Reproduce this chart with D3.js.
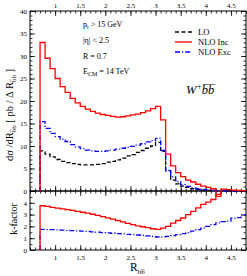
<!DOCTYPE html>
<html>
<head>
<meta charset="utf-8">
<script src="https://cdn.jsdelivr.net/npm/d3@7"></script>
<style>
  body { margin: 0; background: #fff; }
  svg { display: block; font-family: "Liberation Serif", "DejaVu Serif", serif; }
</style>
</head>
<body>
<script>
// bin left edges (width 0.1), last edge closes the histogram
const binEdges = d3.range(41).map(i => +(0.7 + i * 0.1).toFixed(1));
const lastEdge = 4.8;

// d sigma / dR_bb  [pb / dR]
const loValues = [8.9, 8.2, 7.6, 7.0, 6.6, 6.3, 6.1, 5.9, 5.8, 5.8,
  5.8, 5.9, 6.1, 6.4, 6.6, 6.9, 7.3, 7.8, 8.1, 8.6,
  9.0, 9.5, 10.0, 10.8, 8.8, 4.5, 2.4, 1.6, 1.1, 0.8,
  0.5, 0.35, 0.2, 0.12, 0.07, 0.04, 0.02, 0.01, 0, 0, 0];
const nloIncValues = [33.0, 29.5, 27.2, 25.0, 23.2, 21.9, 20.6, 19.6, 18.8, 18.2,
  17.7, 17.3, 17.0, 16.8, 16.6, 16.4, 16.5, 16.7, 16.9, 17.1,
  17.4, 17.8, 18.3, 18.8, 15.8, 8.2, 5.6, 4.1, 3.2, 2.4,
  2.0, 1.5, 1.1, 0.8, 0.5, -1.2, 0.4, 0.3, 0.2, 0.15, 0.1];
const nloExcValues = [15.4, 13.9, 12.8, 12.1, 11.5, 11.0, 10.3, 9.8, 9.4, 9.1,
  8.9, 8.8, 8.8, 8.9, 9.1, 9.3, 9.5, 9.7, 9.9, 10.2,
  10.5, 10.9, 11.2, 11.7, 9.0, 4.6, 3.2, 2.1, 1.4, 1.0,
  0.7, 0.5, 0.35, 0.25, 0.15, 0.1, 0.05, 0.03, 0.02, 0.01, 0.01];

// k-factors
const kIncValues = [3.75, 3.7, 3.62, 3.55, 3.48, 3.42, 3.35, 3.28, 3.2, 3.12,
  3.03, 2.93, 2.82, 2.72, 2.62, 2.5, 2.38, 2.26, 2.15, 2.05,
  1.97, 1.9, 1.8, 1.74, 1.85, 2.0, 2.28, 2.5, 2.71, 3.0,
  3.28, 3.57, 3.86, 4.06, 4.28, 4.71, 5.2, 5.5, 5.5, 5.5, 5.5];
const kExcValues = [1.75, 1.73, 1.72, 1.7, 1.68, 1.66, 1.64, 1.62, 1.6, 1.57,
  1.54, 1.51, 1.48, 1.45, 1.42, 1.39, 1.36, 1.33, 1.3, 1.27,
  1.24, 1.2, 1.15, 1.1, 1.12, 1.16, 1.22, 1.3, 1.38, 1.48,
  1.6, 1.72, 1.85, 2.0, 2.15, 2.3, 2.4, 2.45, 2.7, 2.75, 3.0];

// ticks
const xMajorTicks = [1, 1.5, 2, 2.5, 3, 3.5, 4, 4.5];
const xMinorTicks = d3.range(5, 49).map(i => i / 10);
const yTopMajor = [0, 5, 10, 15, 20, 25, 30, 35, 40];
const yTopMinor = d3.range(0, 41);
const yBotMajor = [0, 1, 2, 3, 4, 5];
const yBotLabels = [0, 1, 2, 3, 4];
const yBotMinor = d3.range(0, 11).map(i => i / 2);

const width = 247, height = 276;
const plotLeft = 30, plotRight = 246, plotTop = 11, plotMid = 191, plotBottom = 250;

const svg = d3.select("body").append("svg")
  .attr("width", width)
  .attr("height", height);

const x = d3.scaleLinear().domain([0.5, 4.8]).range([plotLeft, plotRight]);
const yTop = d3.scaleLinear().domain([0, 40]).range([plotMid, plotTop]);
const yBot = d3.scaleLinear().domain([0, 5]).range([plotBottom, plotMid]);

svg.append("defs").append("clipPath").attr("id", "clipBot")
  .append("rect").attr("x", plotLeft).attr("y", plotMid)
  .attr("width", plotRight - plotLeft).attr("height", plotBottom - plotMid);

// turn per-bin values into step points
function steps(values) {
  const pts = [[binEdges[0], 0]];
  values.forEach((v, i) => pts.push([binEdges[i], v]));
  pts.push([lastEdge, values[values.length - 1]]);
  return pts;
}

function drawAxes(y, major, minor, labelsY, showTopLabels, showBottomLabels, y0, y1) {
  const fmt = d => d;
  // left
  const gl = svg.append("g").attr("transform", "translate(" + plotLeft + ",0)");
  gl.call(d3.axisLeft(y).tickValues(labelsY).tickSize(0).tickPadding(3).tickFormat(fmt));
  gl.append("g").call(d3.axisLeft(y).tickValues(major).tickSize(-5).tickFormat(""));
  gl.append("g").call(d3.axisLeft(y).tickValues(minor).tickSize(-2.5).tickFormat(""));
  // right
  const gr = svg.append("g").attr("transform", "translate(" + plotRight + ",0)");
  gr.call(d3.axisRight(y).tickValues(major).tickSize(-5).tickFormat(""));
  gr.append("g").call(d3.axisRight(y).tickValues(minor).tickSize(-2.5).tickFormat(""));
  // top
  const gt = svg.append("g").attr("transform", "translate(0," + y1 + ")");
  gt.call(d3.axisTop(x).tickValues(showTopLabels ? xMajorTicks : []).tickSize(0).tickPadding(3).tickFormat(fmt));
  gt.append("g").call(d3.axisTop(x).tickValues(xMajorTicks).tickSize(-5).tickFormat(""));
  gt.append("g").call(d3.axisTop(x).tickValues(xMinorTicks).tickSize(-2.5).tickFormat(""));
  // bottom
  const gb = svg.append("g").attr("transform", "translate(0," + y0 + ")");
  gb.call(d3.axisBottom(x).tickValues(showBottomLabels ? xMajorTicks : []).tickSize(0).tickPadding(5).tickFormat(fmt));
  gb.append("g").call(d3.axisBottom(x).tickValues(xMajorTicks).tickSize(-5).tickFormat(""));
  gb.append("g").call(d3.axisBottom(x).tickValues(xMinorTicks).tickSize(-2.5).tickFormat(""));
}

drawAxes(yTop, yTopMajor, yTopMinor, yTopMajor, true, false, plotMid, plotTop);
drawAxes(yBot, yBotMajor, yBotMinor, yBotLabels, false, true, plotBottom, plotMid);

svg.selectAll(".domain").remove();
svg.selectAll(".tick line").attr("stroke", "#000").attr("stroke-width", 0.8);
svg.selectAll(".tick text")
  .attr("font-family", "Liberation Serif")
  .attr("font-size", "7px")
  .attr("fill", "#000");

// frames
svg.append("rect").attr("x", plotLeft).attr("y", plotTop)
  .attr("width", plotRight - plotLeft).attr("height", plotMid - plotTop)
  .attr("fill", "none").attr("stroke", "#000").attr("stroke-width", 1);
svg.append("rect").attr("x", plotLeft).attr("y", plotMid)
  .attr("width", plotRight - plotLeft).attr("height", plotBottom - plotMid)
  .attr("fill", "none").attr("stroke", "#000").attr("stroke-width", 1);

const lineTop = d3.line().x(d => x(d[0])).y(d => yTop(d[1])).curve(d3.curveStepAfter);
const lineBot = d3.line().x(d => x(d[0])).y(d => yBot(d[1])).curve(d3.curveStepAfter);

const styles = {
  lo: { color: "#000", dash: "4,2.5" },
  inc: { color: "#ff0000", dash: null },
  exc: { color: "#0000ff", dash: "5,2,1.2,2" }
};

function drawCurve(line, values, st, clip) {
  svg.append("path")
    .datum(steps(values))
    .attr("d", line)
    .attr("fill", "none")
    .attr("stroke", st.color)
    .attr("stroke-width", 1.3)
    .attr("stroke-dasharray", st.dash)
    .attr("clip-path", clip ? "url(#clipBot)" : null);
}

drawCurve(lineTop, loValues, styles.lo);
drawCurve(lineTop, nloExcValues, styles.exc);
drawCurve(lineTop, nloIncValues, styles.inc);
drawCurve(lineBot, kExcValues, styles.exc, true);
drawCurve(lineBot, kIncValues, styles.inc, true);

// legend
const legendItems = [
  { label: "LO", st: styles.lo },
  { label: "NLO Inc", st: styles.inc },
  { label: "NLO Exc", st: styles.exc }
];
const legend = svg.selectAll("g.legend")
  .data(legendItems)
  .enter().append("g")
  .attr("class", "legend")
  .attr("transform", (d, i) => "translate(175," + (32 + i * 10) + ")");
legend.append("line")
  .attr("x1", 0).attr("x2", 17).attr("y1", 0).attr("y2", 0)
  .attr("stroke", d => d.st.color)
  .attr("stroke-width", 1.3)
  .attr("stroke-dasharray", d => d.st.dash);
legend.append("text")
  .attr("x", 23).attr("y", 3)
  .attr("font-size", "8.5px")
  .text(d => d.label);

// cut annotations
const notes = svg.append("g").attr("font-size", "8px");
let t = notes.append("text").attr("x", 83).attr("y", 27);
t.append("tspan").text("p");
t.append("tspan").attr("font-size", "6px").attr("dy", 2).text("t");
t.append("tspan").attr("dy", -2).text(" > 15 GeV");
notes.append("text").attr("x", 83).attr("y", 43).text("|\u03b7| < 2.5");
notes.append("text").attr("x", 83).attr("y", 59).text("R = 0.7");
t = notes.append("text").attr("x", 83).attr("y", 74);
t.append("tspan").text("E");
t.append("tspan").attr("font-size", "6px").attr("dy", 2).text("CM");
t.append("tspan").attr("dy", -2).text(" = 14 TeV");

// process label
t = svg.append("text").attr("x", 186).attr("y", 94)
  .attr("font-size", "12.5px").attr("font-style", "italic");
t.append("tspan").text("W");
t.append("tspan").attr("font-size", "8px").attr("dy", -5).text("+");
t.append("tspan").attr("dy", 5).text("b\u0305b\u0305");

// axis titles
t = svg.append("text")
  .attr("transform", "translate(13,115) rotate(-90)")
  .attr("text-anchor", "middle")
  .attr("font-size", "10.5px");
t.append("tspan").text("d\u03c3 /dR");
t.append("tspan").attr("font-size", "7px").attr("dy", 2.5).text("b\u0305b");
t.append("tspan").attr("dy", -2.5).text("   [ pb / \u0394 R");
t.append("tspan").attr("font-size", "7px").attr("dy", 2.5).text("b\u0305b");
t.append("tspan").attr("dy", -2.5).text(" ]");

svg.append("text")
  .attr("transform", "translate(17,219) rotate(-90)")
  .attr("text-anchor", "middle")
  .attr("font-size", "10px")
  .text("k-factor");

t = svg.append("text")
  .attr("x", 130).attr("y", 271)
  .attr("font-size", "11.5px");
t.append("tspan").text("R");
t.append("tspan").attr("font-size", "7px").attr("dy", 3).text("bb\u0305");
</script>
</body>
</html>
